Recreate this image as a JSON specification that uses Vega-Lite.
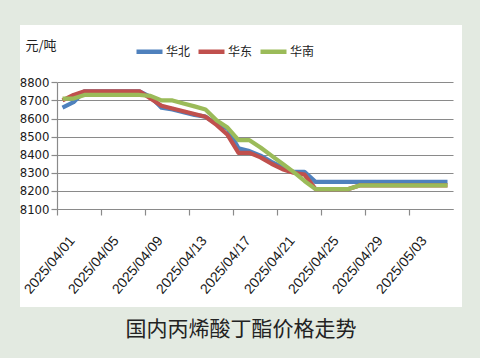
{
  "$schema": "https://vega.github.io/schema/vega-lite/v6.json",
  "autosize": "none",
  "width": 442,
  "height": 282,
  "padding": {"left": 20, "top": 25, "right": 18, "bottom": 51},
  "background": "#E3EAE1",
  "config": {
    "view": {"fill": "white", "stroke": null}
  },
  "title": {
    "text": "国内丙烯酸丁酯价格走势",
    "orient": "bottom",
    "frame": "group",
    "anchor": "middle",
    "baseline": "top",
    "offset": 12,
    "font": "Noto Sans CJK SC",
    "fontSize": 21,
    "fontWeight": "normal",
    "color": "#222222"
  },
  "data": {
    "values": [
      {"date": "2025-04-01", "region": "华北", "price": 8660},
      {"date": "2025-04-02", "region": "华北", "price": 8690},
      {"date": "2025-04-03", "region": "华北", "price": 8750},
      {"date": "2025-04-04", "region": "华北", "price": 8750},
      {"date": "2025-04-05", "region": "华北", "price": 8750},
      {"date": "2025-04-06", "region": "华北", "price": 8750},
      {"date": "2025-04-07", "region": "华北", "price": 8750},
      {"date": "2025-04-08", "region": "华北", "price": 8750},
      {"date": "2025-04-09", "region": "华北", "price": 8720},
      {"date": "2025-04-10", "region": "华北", "price": 8660},
      {"date": "2025-04-11", "region": "华北", "price": 8650},
      {"date": "2025-04-12", "region": "华北", "price": 8635},
      {"date": "2025-04-13", "region": "华北", "price": 8620},
      {"date": "2025-04-14", "region": "华北", "price": 8610},
      {"date": "2025-04-15", "region": "华北", "price": 8570},
      {"date": "2025-04-16", "region": "华北", "price": 8545},
      {"date": "2025-04-17", "region": "华北", "price": 8435},
      {"date": "2025-04-18", "region": "华北", "price": 8420},
      {"date": "2025-04-19", "region": "华北", "price": 8395},
      {"date": "2025-04-20", "region": "华北", "price": 8360},
      {"date": "2025-04-21", "region": "华北", "price": 8330},
      {"date": "2025-04-22", "region": "华北", "price": 8305},
      {"date": "2025-04-23", "region": "华北", "price": 8305},
      {"date": "2025-04-24", "region": "华北", "price": 8250},
      {"date": "2025-04-25", "region": "华北", "price": 8250},
      {"date": "2025-04-26", "region": "华北", "price": 8250},
      {"date": "2025-04-27", "region": "华北", "price": 8250},
      {"date": "2025-04-28", "region": "华北", "price": 8250},
      {"date": "2025-04-29", "region": "华北", "price": 8250},
      {"date": "2025-04-30", "region": "华北", "price": 8250},
      {"date": "2025-05-01", "region": "华北", "price": 8250},
      {"date": "2025-05-02", "region": "华北", "price": 8250},
      {"date": "2025-05-03", "region": "华北", "price": 8250},
      {"date": "2025-05-04", "region": "华北", "price": 8250},
      {"date": "2025-05-05", "region": "华北", "price": 8250},
      {"date": "2025-05-06", "region": "华北", "price": 8250},
      {"date": "2025-04-01", "region": "华东", "price": 8700},
      {"date": "2025-04-02", "region": "华东", "price": 8730},
      {"date": "2025-04-03", "region": "华东", "price": 8750},
      {"date": "2025-04-04", "region": "华东", "price": 8750},
      {"date": "2025-04-05", "region": "华东", "price": 8750},
      {"date": "2025-04-06", "region": "华东", "price": 8750},
      {"date": "2025-04-07", "region": "华东", "price": 8750},
      {"date": "2025-04-08", "region": "华东", "price": 8750},
      {"date": "2025-04-09", "region": "华东", "price": 8710},
      {"date": "2025-04-10", "region": "华东", "price": 8670},
      {"date": "2025-04-11", "region": "华东", "price": 8655},
      {"date": "2025-04-12", "region": "华东", "price": 8640},
      {"date": "2025-04-13", "region": "华东", "price": 8625},
      {"date": "2025-04-14", "region": "华东", "price": 8610},
      {"date": "2025-04-15", "region": "华东", "price": 8565},
      {"date": "2025-04-16", "region": "华东", "price": 8510},
      {"date": "2025-04-17", "region": "华东", "price": 8410},
      {"date": "2025-04-18", "region": "华东", "price": 8410},
      {"date": "2025-04-19", "region": "华东", "price": 8385},
      {"date": "2025-04-20", "region": "华东", "price": 8350},
      {"date": "2025-04-21", "region": "华东", "price": 8320},
      {"date": "2025-04-22", "region": "华东", "price": 8300},
      {"date": "2025-04-23", "region": "华东", "price": 8290},
      {"date": "2025-04-24", "region": "华东", "price": 8210},
      {"date": "2025-04-25", "region": "华东", "price": 8210},
      {"date": "2025-04-26", "region": "华东", "price": 8210},
      {"date": "2025-04-27", "region": "华东", "price": 8210},
      {"date": "2025-04-28", "region": "华东", "price": 8230},
      {"date": "2025-04-29", "region": "华东", "price": 8230},
      {"date": "2025-04-30", "region": "华东", "price": 8230},
      {"date": "2025-05-01", "region": "华东", "price": 8230},
      {"date": "2025-05-02", "region": "华东", "price": 8230},
      {"date": "2025-05-03", "region": "华东", "price": 8230},
      {"date": "2025-05-04", "region": "华东", "price": 8230},
      {"date": "2025-05-05", "region": "华东", "price": 8230},
      {"date": "2025-05-06", "region": "华东", "price": 8230},
      {"date": "2025-04-01", "region": "华南", "price": 8710},
      {"date": "2025-04-02", "region": "华南", "price": 8710},
      {"date": "2025-04-03", "region": "华南", "price": 8730},
      {"date": "2025-04-04", "region": "华南", "price": 8730},
      {"date": "2025-04-05", "region": "华南", "price": 8730},
      {"date": "2025-04-06", "region": "华南", "price": 8730},
      {"date": "2025-04-07", "region": "华南", "price": 8730},
      {"date": "2025-04-08", "region": "华南", "price": 8730},
      {"date": "2025-04-09", "region": "华南", "price": 8725},
      {"date": "2025-04-10", "region": "华南", "price": 8700},
      {"date": "2025-04-11", "region": "华南", "price": 8700},
      {"date": "2025-04-12", "region": "华南", "price": 8683},
      {"date": "2025-04-13", "region": "华南", "price": 8667},
      {"date": "2025-04-14", "region": "华南", "price": 8650},
      {"date": "2025-04-15", "region": "华南", "price": 8590},
      {"date": "2025-04-16", "region": "华南", "price": 8550},
      {"date": "2025-04-17", "region": "华南", "price": 8480},
      {"date": "2025-04-18", "region": "华南", "price": 8480},
      {"date": "2025-04-19", "region": "华南", "price": 8440},
      {"date": "2025-04-20", "region": "华南", "price": 8395},
      {"date": "2025-04-21", "region": "华南", "price": 8350},
      {"date": "2025-04-22", "region": "华南", "price": 8305},
      {"date": "2025-04-23", "region": "华南", "price": 8255},
      {"date": "2025-04-24", "region": "华南", "price": 8210},
      {"date": "2025-04-25", "region": "华南", "price": 8210},
      {"date": "2025-04-26", "region": "华南", "price": 8210},
      {"date": "2025-04-27", "region": "华南", "price": 8210},
      {"date": "2025-04-28", "region": "华南", "price": 8230},
      {"date": "2025-04-29", "region": "华南", "price": 8230},
      {"date": "2025-04-30", "region": "华南", "price": 8230},
      {"date": "2025-05-01", "region": "华南", "price": 8230},
      {"date": "2025-05-02", "region": "华南", "price": 8230},
      {"date": "2025-05-03", "region": "华南", "price": 8230},
      {"date": "2025-05-04", "region": "华南", "price": 8230},
      {"date": "2025-05-05", "region": "华南", "price": 8230},
      {"date": "2025-05-06", "region": "华南", "price": 8230}
    ]
  },
  "mark": {"type": "line", "strokeWidth": 4.2, "strokeJoin": "round", "strokeCap": "butt"},
  "encoding": {
    "x": {
      "field": "date",
      "type": "temporal",
      "scale": {
        "type": "utc",
        "domain": [
          {"year": 2025, "month": 3, "date": 31, "hours": 12, "utc": true},
          {"year": 2025, "month": 5, "date": 6, "hours": 12, "utc": true}
        ],
        "range": [37, 433]
      },
      "axis": {
        "title": null,
        "offset": -98,
        "grid": false,
        "values": [
          {"year": 2025, "month": 4, "date": 1, "utc": true},
          {"year": 2025, "month": 4, "date": 5, "utc": true},
          {"year": 2025, "month": 4, "date": 9, "utc": true},
          {"year": 2025, "month": 4, "date": 13, "utc": true},
          {"year": 2025, "month": 4, "date": 17, "utc": true},
          {"year": 2025, "month": 4, "date": 21, "utc": true},
          {"year": 2025, "month": 4, "date": 25, "utc": true},
          {"year": 2025, "month": 4, "date": 29, "utc": true},
          {"year": 2025, "month": 5, "date": 3, "utc": true},
          {"year": 2025, "month": 5, "date": 7, "utc": true}
        ],
        "format": "%Y/%m/%d",
        "labelExpr": "datum.label == '2025/05/07' ? '' : datum.label",
        "tickOffset": -5.5,
        "labelOffset": 15,
        "labelAngle": -50,
        "labelAlign": "right",
        "labelBaseline": "middle",
        "labelPadding": 23,
        "labelFont": "Liberation Sans",
        "labelFontSize": 14,
        "labelColor": "#1a1a1a",
        "labelOverlap": false,
        "labelFlush": false,
        "tickSize": 6,
        "tickColor": "#8A8A8A",
        "domainColor": "#8A8A8A",
        "domainWidth": 1.2,
        "tickWidth": 1.2
      }
    },
    "y": {
      "field": "price",
      "type": "quantitative",
      "scale": {"domain": [8100, 8800], "range": [184, 57.3], "zero": false, "nice": false},
      "axis": {
        "title": "元/吨",
        "titleAngle": 0,
        "titleAlign": "left",
        "titleBaseline": "middle",
        "titleX": -32,
        "titleY": 20,
        "titleFont": "Noto Sans CJK SC",
        "titleFontSize": 13,
        "titleFontWeight": "normal",
        "titleColor": "#222222",
        "offset": -37,
        "values": [8100, 8200, 8300, 8400, 8500, 8600, 8700, 8800],
        "format": "d",
        "grid": true,
        "gridColor": "#8A8A8A",
        "gridWidth": 1.2,
        "tickSize": 6,
        "tickColor": "#8A8A8A",
        "tickWidth": 1.2,
        "domainColor": "#8A8A8A",
        "domainWidth": 1.2,
        "labelPadding": 2,
        "labelFont": "Liberation Sans Narrow, DejaVu Sans Condensed, sans-serif",
        "labelFontSize": 13,
        "labelColor": "#1a1a1a"
      }
    },
    "color": {
      "field": "region",
      "type": "nominal",
      "scale": {"domain": ["华北", "华东", "华南"], "range": ["#4F81BD", "#C0504D", "#9BBB59"]},
      "legend": {
        "title": null,
        "orient": "none",
        "legendX": 114,
        "legendY": 11,
        "direction": "horizontal",
        "symbolType": "stroke",
        "symbolSize": 676,
        "symbolStrokeWidth": 4.5,
        "labelFont": "Noto Sans CJK SC",
        "labelFontSize": 12,
        "labelColor": "#222222",
        "labelOffset": 1,
        "columnPadding": -2
      }
    }
  }
}
